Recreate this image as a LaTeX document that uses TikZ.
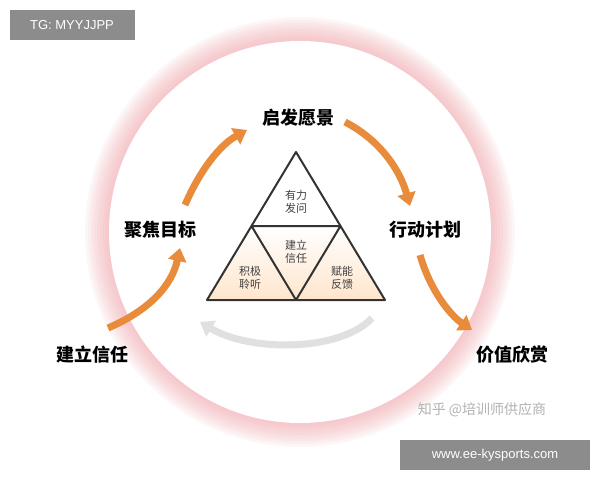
\documentclass[tikz,border=0pt]{standalone}
\usepackage{fontspec}
\setmainfont{Liberation Sans}
\newfontfamily\cjk{Noto Sans CJK SC}
\usetikzlibrary{arrows.meta}
\definecolor{org}{RGB}{232,140,60}
\definecolor{glow}{RGB}{240,160,165}
\tikzset{
 lab/.style={font=\cjk\bfseries\fontsize{18}{18}\selectfont},
 tri/.style={font=\cjk\fontsize{11}{13}\selectfont,align=center,text=black!75},
 oarr/.style={org,line width=7pt,-{Triangle[length=13pt,width=18pt]}},
 garr/.style={black!12,line width=7pt,-{Triangle[length=13pt,width=18pt]}},
}
\begin{document}
\begin{tikzpicture}[x=1pt,y=-1pt]
\useasboundingbox (0,0) rectangle (600,480);
\fill[white] (0,0) rectangle (600,480);
\foreach \r in {215,212,...,194}
 \fill[glow,opacity=0.09] (300,232) circle (\r);
\fill[white] (300,232) circle (191);
% triangle
\coordinate (A) at (296,152); \coordinate (L) at (207,300); \coordinate (R) at (385,300);
\coordinate (ML) at (251.5,226); \coordinate (MR) at (340.5,226); \coordinate (MB) at (296,300);
\shade[top color=white,bottom color=orange!20] (ML) -- (L) -- (R) -- (MR) -- cycle;
\draw[line width=2pt,black!80,line join=round] (A) -- (L) -- (R) -- cycle (ML) -- (MR) -- (MB) -- cycle;
\node[tri] (t1) at (296,202) {有力\\发问};
\node[tri] (t2) at (296,252) {建立\\信任};
\node[tri] (t3) at (250,278) {积极\\聆听};
\node[tri] (t4) at (342,278) {赋能\\反馈};
% labels
\node[lab] (n1) at (298,118) {启发愿景};
\node[lab] (n2) at (425,230) {行动计划};
\node[lab] (n3) at (512,355) {价值欣赏};
\node[lab] (n4) at (92,355) {建立信任};
\node[lab] (n5) at (160,230) {聚焦目标};
% arrows
\draw[oarr] (108,328) .. controls (150,310) and (172,285) .. (180,248);
\draw[oarr] (185,205) .. controls (200,170) and (220,145) .. (247,130);
\draw[oarr] (345,122) .. controls (380,140) and (400,170) .. (410,206);
\draw[oarr] (420,255) .. controls (430,290) and (450,315) .. (472,330);
\draw[garr] (372,318) .. controls (340,352) and (250,352) .. (200,322);
% watermark and tags
\node[font=\cjk\fontsize{14}{14}\selectfont,text=black!30] (w) at (482,410) {知乎 @培训师供应商};
\fill[black!45] (10,10) rectangle (135,40);
\node[text=white,font=\fontsize{13}{13}\selectfont] (tg) at (72,25) {TG: MYYJJPP};
\fill[black!45] (400,440) rectangle (590,470);
\node[text=white,font=\fontsize{13}{13}\selectfont] (www) at (495,455) {www.ee-kysports.com};
\end{tikzpicture}
\end{document}
